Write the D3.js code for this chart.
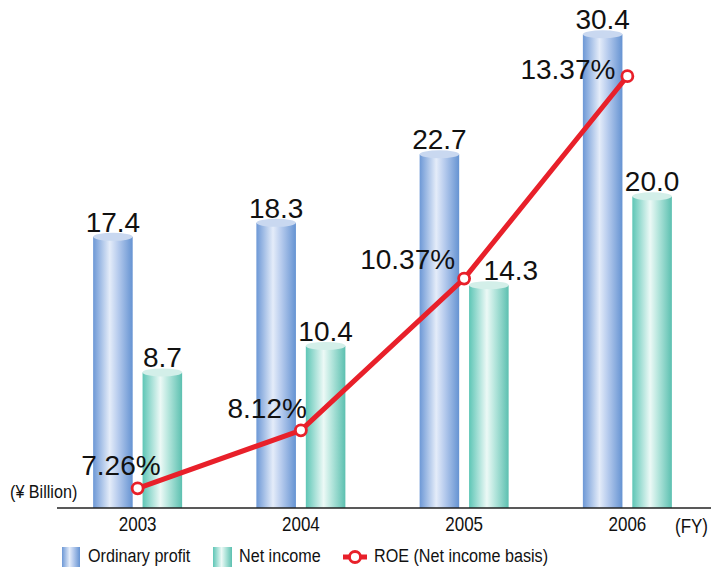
<!DOCTYPE html>
<html>
<head>
<meta charset="utf-8">
<script src="https://cdn.jsdelivr.net/npm/d3@7"></script>
<style>
  body { margin: 0; background: #fff; }
  svg { display: block; }
  .num { font-family: "Liberation Sans", Arial, Helvetica, sans-serif; font-size: 28px; fill: #111; }
  .cond { font-family: "Liberation Sans", Arial, Helvetica, sans-serif; fill: #111; }
</style>
</head>
<body>
<section></section>
<script>
// Data
const years = ["2003", "2004", "2005", "2006"];
const ordinaryProfit = [17.4, 18.3, 22.7, 30.4];
const netIncome = [8.7, 10.4, 14.3, 20.0];
const roe = [7.26, 8.12, 10.37, 13.37];
const roeLabels = ["7.26%", "8.12%", "10.37%", "13.37%"];

const WIDTH = 711;
const HEIGHT = 568;
const BASELINE = 508;
// no condensed face installed, so squeeze a normal one
const SQUEEZE = 0.85;

const svg = d3.select("section")
    .append("svg")
    .attr("width", WIDTH)
    .attr("height", HEIGHT);

// gradients for the cylinder look
const defs = svg.append("defs");
const makeGrad = (id, stops) => {
    const g = defs.append("linearGradient")
        .attr("id", id)
        .attr("x1", "0%").attr("x2", "100%")
        .attr("y1", "0%").attr("y2", "0%");
    stops.forEach(s => g.append("stop").attr("offset", s[0]).attr("stop-color", s[1]));
};
makeGrad("gBlue", [["0%", "#6d98d6"], ["42%", "#e4ecf9"], ["62%", "#b9cdee"], ["100%", "#6593d2"]]);
makeGrad("gTeal", [["0%", "#5ec6b6"], ["45%", "#ecf9f6"], ["65%", "#b6e6dd"], ["100%", "#5cc0b0"]]);

// dx nudges the value label off the ROE marker where they collide
const series = [
    {key: "ordinary", values: ordinaryProfit, fill: "url(#gBlue)", top: "#c9d8f0", dx: [0, 0, 0, 0]},
    {key: "net", values: netIncome, fill: "url(#gTeal)", top: "#d3efe9", dx: [0, 0, 22, 0]}
];

// scales
const x0 = d3.scaleBand().domain(years).range([56, 709]);
const x1 = d3.scaleBand().domain(series.map(s => s.key)).range([-44.5, 44.5]).paddingInner(0.2);
const y = d3.scaleLinear().domain([0, 32.6]).range([BASELINE, 0]);
const yRoe = d3.scaleLinear().domain([0, 14.5]).range([978, 0]);

const cx = d => x0(d) + x0.bandwidth() / 2;
const RY = 4;

const condText = (parent, x, yy, size, anchor, str) =>
    parent.append("text")
        .attr("class", "cond")
        .attr("transform", "translate(" + x + "," + yy + ") scale(" + SQUEEZE + ",1)")
        .attr("font-size", size)
        .attr("text-anchor", anchor)
        .text(str);

// bars
series.forEach(s => {
    const g = svg.append("g").attr("class", "bars-" + s.key);
    const rows = years.map((yr, i) => ({year: yr, v: s.values[i], dx: s.dx[i]}));

    g.selectAll("rect")
        .data(rows)
        .enter()
        .append("rect")
        .attr("x", d => cx(d.year) + x1(s.key))
        .attr("y", d => y(d.v))
        .attr("width", x1.bandwidth())
        .attr("height", d => BASELINE - y(d.v))
        .attr("fill", s.fill);

    g.selectAll("ellipse")
        .data(rows)
        .enter()
        .append("ellipse")
        .attr("cx", d => cx(d.year) + x1(s.key) + x1.bandwidth() / 2)
        .attr("cy", d => y(d.v))
        .attr("rx", x1.bandwidth() / 2)
        .attr("ry", RY)
        .attr("fill", s.top);

    g.selectAll("text")
        .data(rows)
        .enter()
        .append("text")
        .attr("class", "num")
        .attr("text-anchor", "middle")
        .attr("x", d => cx(d.year) + x1(s.key) + x1.bandwidth() / 2 + d.dx)
        .attr("y", d => y(d.v) - RY - 1)
        .text(d => d.v.toFixed(1));
});

// x axis
const xAxis = d3.axisBottom(x0).tickSize(0).tickPadding(9);
const axisG = svg.append("g")
    .attr("transform", "translate(0," + BASELINE + ")")
    .call(xAxis);
axisG.select(".domain").remove();
axisG.append("line")
    .attr("x1", 57).attr("x2", WIDTH)
    .attr("stroke", "#222").attr("stroke-width", 1.5);
axisG.selectAll(".tick text")
    .attr("class", "cond")
    .attr("font-size", 20)
    .attr("fill", "#111")
    .attr("transform", "scale(" + SQUEEZE + ",1)");

condText(svg, 708, 533, 20, "end", "(FY)");
condText(svg, 10, 498, 19, "start", "(¥ Billion)");

// ROE line
const roeRows = years.map((yr, i) => ({year: yr, v: roe[i], label: roeLabels[i]}));
const line = d3.line().x(d => cx(d.year)).y(d => yRoe(d.v));

svg.append("path")
    .datum(roeRows)
    .attr("d", line)
    .attr("fill", "none")
    .attr("stroke", "#e8202a")
    .attr("stroke-width", 5)
    .attr("stroke-linejoin", "round");

svg.selectAll("circle.roe")
    .data(roeRows)
    .enter()
    .append("circle")
    .attr("class", "roe")
    .attr("cx", d => cx(d.year))
    .attr("cy", d => yRoe(d.v))
    .attr("r", 5.5)
    .attr("fill", "#fff")
    .attr("stroke", "#e8202a")
    .attr("stroke-width", 2.8);

// label placement relative to the marker
const roeLabelDx = [23, 6, -9, -12];
const roeLabelDy = [-13, -12, -10, 3];
svg.selectAll("text.roe")
    .data(roeRows)
    .enter()
    .append("text")
    .attr("class", "num roe")
    .attr("text-anchor", "end")
    .attr("x", (d, i) => cx(d.year) + roeLabelDx[i])
    .attr("y", (d, i) => yRoe(d.v) + roeLabelDy[i])
    .text(d => d.label);

// legend
const legend = svg.append("g");
legend.append("rect").attr("x", 62).attr("y", 547).attr("width", 18).attr("height", 20).attr("fill", "url(#gBlue)");
condText(legend, 88, 562, 19, "start", "Ordinary profit");
legend.append("rect").attr("x", 213).attr("y", 547).attr("width", 19).attr("height", 20).attr("fill", "url(#gTeal)");
condText(legend, 239, 562, 19, "start", "Net income");
legend.append("line").attr("x1", 343).attr("x2", 367).attr("y1", 557).attr("y2", 557)
    .attr("stroke", "#e8202a").attr("stroke-width", 5);
legend.append("circle").attr("cx", 355).attr("cy", 557).attr("r", 5.5)
    .attr("fill", "#fff").attr("stroke", "#e8202a").attr("stroke-width", 2.8);
condText(legend, 374, 562, 19, "start", "ROE (Net income basis)");
</script>
</body>
</html>
